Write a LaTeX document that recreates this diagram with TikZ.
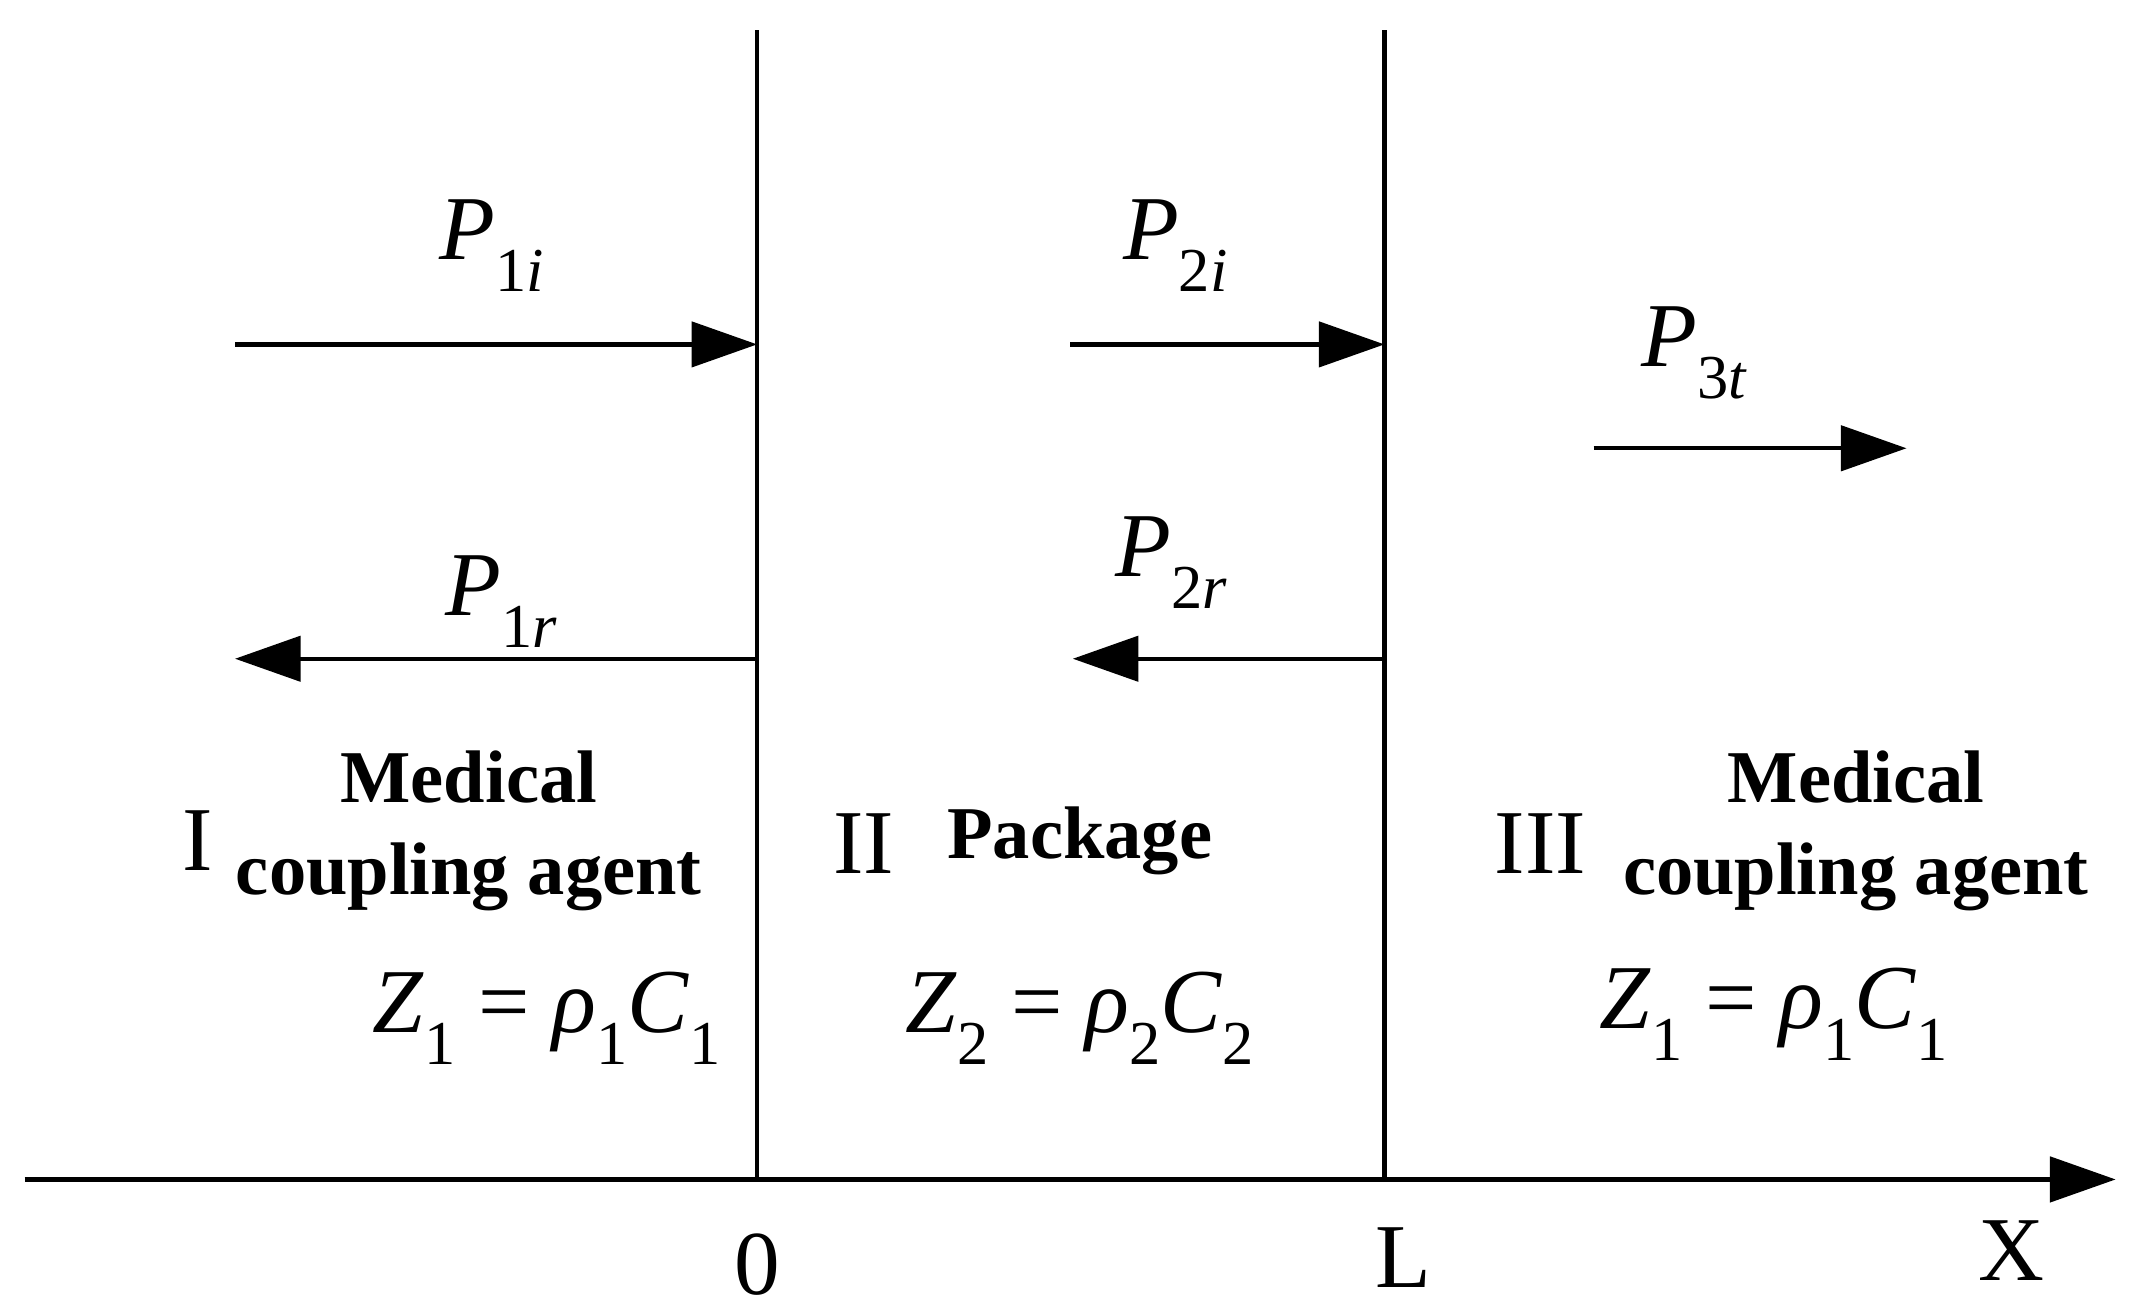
\documentclass[tikz,border=0pt]{standalone}
\usepackage{fontspec}
\setmainfont{Liberation Serif}
\usetikzlibrary{arrows.meta}
\newcommand{\sbx}[1]{\raisebox{-0.35em}{\fontsize{13}{15}\selectfont #1}}
\begin{document}
\begin{tikzpicture}[x=0.01cm,y=-0.01cm,
  ln/.style={line width=0.9pt},
  ar/.style={ln,-{Triangle[length=0.48cm,width=0.33cm]}},
  lab/.style={font=\fontsize{19}{22}\selectfont},
  bt/.style={font=\fontsize{15.5}{19}\selectfont\bfseries,align=center},
  rn/.style={font=\fontsize{19}{22}\selectfont}]
\useasboundingbox (0,0) rectangle (1560,957);
\coordinate (ax0) at (18,863); \coordinate (ax1) at (1548,863);
\coordinate (a0) at (554,22); \coordinate (b0) at (554,863);
\coordinate (a1) at (1013,22); \coordinate (b1) at (1013,863);
\draw[ar] (ax0) -- (ax1);
\draw[ln] (a0) -- (b0);
\draw[ln] (a1) -- (b1);
\coordinate (p1is) at (172,252); \coordinate (p1ie) at (554,252);
\coordinate (p2is) at (783,252); \coordinate (p2ie) at (1013,252);
\coordinate (p3s) at (1166,328); \coordinate (p3e) at (1395,328);
\coordinate (p1rs) at (554,482); \coordinate (p1re) at (172,482);
\coordinate (p2rs) at (1013,482); \coordinate (p2re) at (785,482);
\draw[ar] (p1is) -- (p1ie);
\draw[ar] (p2is) -- (p2ie);
\draw[ar] (p3s) -- (p3e);
\draw[ar] (p1rs) -- (p1re);
\draw[ar] (p2rs) -- (p2re);
\node[lab] (l1) at (360,180) {\textit{P}\sbx{1\textit{i}}};
\node[lab] (l2) at (860,180) {\textit{P}\sbx{2\textit{i}}};
\node[lab] (l3) at (1240,258) {\textit{P}\sbx{3\textit{t}}};
\node[lab] (l4) at (367,440) {\textit{P}\sbx{1\textit{r}}};
\node[lab] (l5) at (857,412) {\textit{P}\sbx{2\textit{r}}};
\node[rn] (r1) at (145,615) {I};
\node[bt] (t1) at (343,608) {Medical\\coupling agent};
\node[rn] (r2) at (632,617) {II};
\node[bt] (t2) at (790,615) {Package};
\node[rn] (r3) at (1127,617) {III};
\node[bt] (t3) at (1358,608) {Medical\\coupling agent};
\node[lab] (z1) at (400,745) {\textit{Z}\sbx{1} = \textit{ρ}\sbx{1}\textit{C}\sbx{1}};
\node[lab] (z2) at (790,745) {\textit{Z}\sbx{2} = \textit{ρ}\sbx{2}\textit{C}\sbx{2}};
\node[lab] (z3) at (1298,742) {\textit{Z}\sbx{1} = \textit{ρ}\sbx{1}\textit{C}\sbx{1}};
\node[rn] (o) at (554,925) {0};
\node[rn] (L) at (1027,920) {L};
\node[rn] (X) at (1472,915) {X};
\end{tikzpicture}
\end{document}
